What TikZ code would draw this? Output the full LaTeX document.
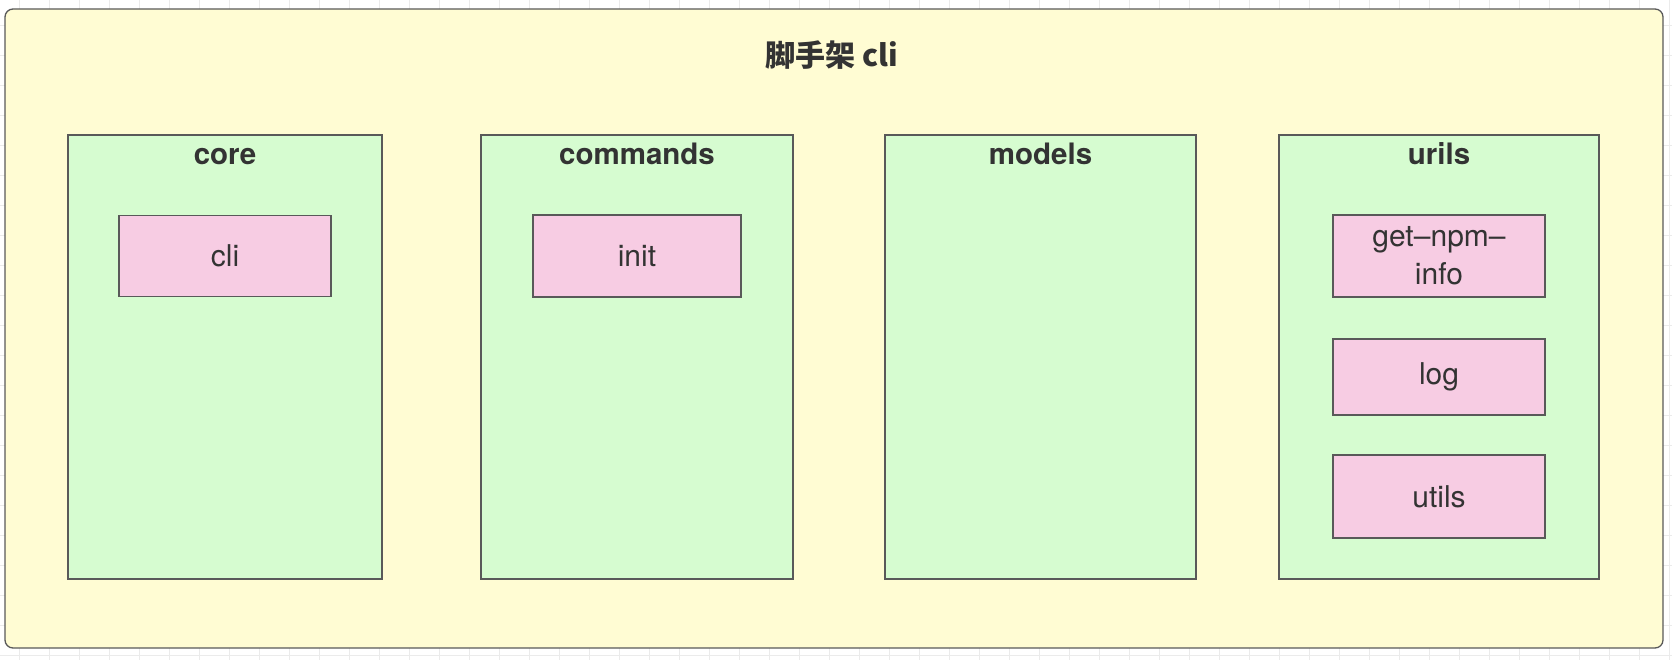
\documentclass[tikz,border=0pt]{standalone}
\usepackage{fontspec}
\setmainfont{TeX Gyre Heros}
\newfontfamily\cjk{Noto Sans CJK SC}
\definecolor{bgyellow}{HTML}{FFFCD3}
\definecolor{boxgreen}{HTML}{D6FCD0}
\definecolor{boxpink}{HTML}{F7CCE3}
\definecolor{edge}{HTML}{595959}
\definecolor{txt}{HTML}{333333}
\definecolor{gridc}{HTML}{EBEBEB}
\tikzset{
  x=1pt, y=-1pt,
  outerbox/.style={draw=edge, fill=bgyellow, line width=1.3pt, rounded corners=8pt},
  group/.style={draw=edge, fill=boxgreen, line width=1.3pt, inner sep=0pt},
  grouptitle/.style={text=txt, font=\fontsize{29.5}{32}\selectfont\bfseries, anchor=base, inner sep=0pt},
  item/.style={draw=edge, fill=boxpink, line width=1.2pt, inner sep=0pt, text=txt,
    font=\fontsize{30}{38}\selectfont, align=center, minimum width=212pt},
}
\begin{document}
\begin{tikzpicture}
\useasboundingbox (0,0) rectangle (1672,660);
% faint canvas grid
\foreach \gx in {19,49,...,1672} \draw[gridc, line width=0.8pt] (\gx,0) -- (\gx,660);
\foreach \gy in {25,55,...,660} \draw[gridc, line width=0.8pt] (0,\gy) -- (1672,\gy);
% outer container
\draw[outerbox] (5,9) rectangle (1663,648);
\node[text=txt, font=\cjk\fontsize{30}{32}\selectfont\bfseries] (title) at (832,55) {脚手架 cli};
% groups
\node[group, minimum width=314pt, minimum height=444pt] (core) at (225,357) {};
\node[group, minimum width=312pt, minimum height=444pt] (commands) at (637,357) {};
\node[group, minimum width=311pt, minimum height=444pt] (models) at (1040.5,357) {};
\node[group, minimum width=320pt, minimum height=444pt] (urils) at (1439,357) {};
\node[grouptitle] (coreT) at (225,165) {core};
\node[grouptitle] (commandsT) at (637,165) {commands};
\node[grouptitle] (modelsT) at (1040.5,165) {models};
\node[grouptitle] (urilsT) at (1439,165) {urils};
% items
\node[item, minimum height=81pt] (cli) at (225,256) {cli};
\node[item, minimum width=208pt, minimum height=82pt] (init) at (637,256) {init};
\node[item, minimum height=82pt] (npm) at (1439,256) {get–npm–\\info};
\node[item, minimum height=76pt] (log) at (1439,377) {log};
\node[item, minimum height=83pt] (utils) at (1439,496.5) {utils};
\end{tikzpicture}
\end{document}
